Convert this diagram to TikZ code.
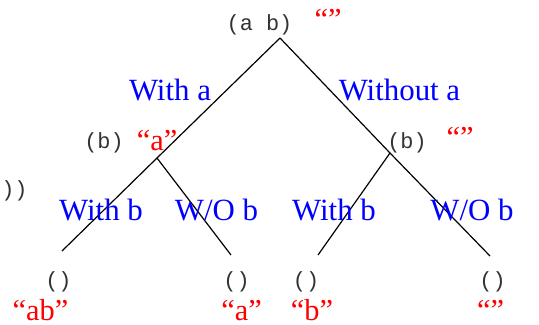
\documentclass[tikz,border=0pt]{standalone}
\usepackage{fontspec}
\setmainfont{Liberation Serif}
\setmonofont{Liberation Mono}
\begin{document}
\begin{tikzpicture}[x={(1bp,0)},y={(0,-1bp)},
  code/.style={anchor=base,inner sep=0pt,text=black!80,font=\ttfamily\fontsize{22}{22}\selectfont},
  lbl/.style={anchor=base,inner sep=0pt,text=blue,font=\fontsize{31}{31}\selectfont},
  str/.style={anchor=base,inner sep=0pt,text=red,font=\fontsize{30.5}{30.5}\selectfont},
  edge/.style={line width=1.2bp,black}]
\useasboundingbox (0,0) rectangle (539,324);
% tree points
\coordinate (r) at (280,38);
\coordinate (lj) at (157,158);
\coordinate (rj) at (390,153);
\coordinate (ll) at (62,251);
\coordinate (lr) at (231,255);
\coordinate (rl) at (318,255);
\coordinate (rr) at (490,256);
\draw[edge] (r) -- (lj) -- (ll);
\draw[edge] (lj) -- (lr);
\draw[edge] (r) -- (rj) -- (rr);
\draw[edge] (rj) -- (rl);
% texts
\node[code] (t0) at (259.5,30) {(a b)};
\node[str] (s0) at (328,29) {“”};
\node[code] (t1) at (104,148) {(b)};
\node[str] (s1) at (157,150) {“a”};
\node[code] (t2) at (407,148) {(b)};
\node[str] (s2) at (460,147) {“”};
\node[code] (t3) at (14.5,196) {))};
\node[lbl] (e1) at (170,100) {With a};
\node[lbl] (e2) at (399.5,100) {Without a};
\node[lbl] (e3) at (101,220) {With b};
\node[lbl] (e4) at (216.5,220) {W/O b};
\node[lbl] (e5) at (334,220) {With b};
\node[lbl] (e6) at (472,220) {W/O b};
\node[code] (l1) at (58.5,287) {()};
\node[code] (l2) at (236.5,287) {()};
\node[code] (l3) at (306,287) {()};
\node[code] (l4) at (492.5,287) {()};
\node[str] (s3) at (40.5,320) {“ab”};
\node[str] (s4) at (241.5,320) {“a”};
\node[str] (s5) at (312,320) {“b”};
\node[str] (s6) at (490.5,320) {“”};
\end{tikzpicture}
\end{document}
